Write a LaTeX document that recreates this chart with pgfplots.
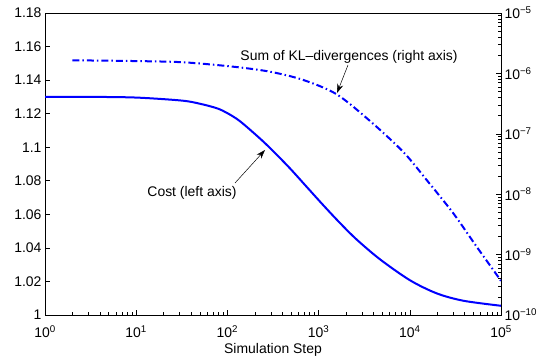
\documentclass[border=0pt]{standalone}
\usepackage{fontspec}
\setmainfont{Liberation Sans}
\usepackage{pgfplots}
\usepackage{pgfplotstable}
\pgfplotsset{compat=1.18}
\usetikzlibrary{arrows.meta}

\pgfplotstableread{
x y
1 1.1300
3.162 1.1300
10 1.1296
31.62 1.1278
50.1 1.1259
76.9 1.1232
100 1.1203
137.4 1.1155
227.5 1.1052
318.4 1.0976
485.3 1.0874
739.6 1.0764
1127 1.0654
1718 1.0548
2612 1.0450
4710 1.0332
10046 1.0207
19724 1.0129
38637 1.0085
100000 1.0055
}\costdata

\pgfplotstableread{
x y
2 1.648e-6
9.29 1.603e-6
32.8 1.528e-6
116 1.291e-6
293 1.067e-6
681 7.78e-7
1578 4.51e-7
3664 1.629e-7
8492 5.0e-8
15311 1.718e-8
29992 4.83e-9
54075 1.352e-9
93325 4.26e-10
100000 3.63e-10
}\kldata

\begin{document}
\begin{tikzpicture}
\begin{axis}[
  width=456bp, height=302bp, scale only axis,
  at={(0bp,0bp)}, anchor=south west,
  xmode=log, xmin=1, xmax=100000,
  tick label style={font=\fontsize{14}{16}\selectfont},
  xticklabel style={yshift=-7bp},
  major tick length=5bp, minor tick length=3bp,
  tick style={black, line width=0.6bp},
  axis line style={line width=0.8bp},
  ymin=1, ymax=1.18,
  xtick pos=left, ytick pos=left,
  xtick={1,10,100,1000,10000,100000},
  xticklabels={10\textsuperscript{0},10\textsuperscript{1},10\textsuperscript{2},10\textsuperscript{3},10\textsuperscript{4},10\textsuperscript{5}},
  minor xtick={2,3,4,5,6,7,8,9,20,30,40,50,60,70,80,90,200,300,400,500,600,700,800,900,2000,3000,4000,5000,6000,7000,8000,9000,20000,30000,40000,50000,60000,70000,80000,90000},
  ytick={1,1.02,1.04,1.06,1.08,1.1,1.12,1.14,1.16,1.18},
  yticklabels={1,1.02,1.04,1.06,1.08,1.1,1.12,1.14,1.16,1.18},
  xlabel={Simulation Step},
  xlabel style={font=\fontsize{14}{16}\selectfont, yshift=1.5bp},
]
\addplot[blue, line width=2bp, no markers, smooth, tension=0.5] table[x=x,y=y] {\costdata};
\end{axis}
\begin{axis}[
  width=456bp, height=302bp, scale only axis,
  at={(0bp,0bp)}, anchor=south west,
  xmode=log, xmin=1, xmax=100000,
  tick label style={font=\fontsize{14}{16}\selectfont},
  major tick length=5bp, minor tick length=3bp,
  tick style={black, line width=0.6bp},
  axis line style={line width=0.8bp},
  axis x line=none, axis y line*=right,
  ymode=log, ymin=1e-10, ymax=1e-5,
  ytick={1e-10,1e-9,1e-8,1e-7,1e-6,1e-5},
  yticklabels={10\textsuperscript{−10},10\textsuperscript{−9},10\textsuperscript{−8},10\textsuperscript{−7},10\textsuperscript{−6},10\textsuperscript{−5}},
  minor ytick={2e-10,3e-10,4e-10,5e-10,6e-10,7e-10,8e-10,9e-10,2e-9,3e-9,4e-9,5e-9,6e-9,7e-9,8e-9,9e-9,2e-8,3e-8,4e-8,5e-8,6e-8,7e-8,8e-8,9e-8,2e-7,3e-7,4e-7,5e-7,6e-7,7e-7,8e-7,9e-7,2e-6,3e-6,4e-6,5e-6,6e-6,7e-6,8e-6,9e-6},
]
\addplot[blue, line width=2bp, no markers, smooth, tension=0.5, dash pattern=on 7bp off 3bp on 1.5bp off 3bp] table[x=x,y=y] {\kldata};
\end{axis}
\node[font=\fontsize{14}{16}\selectfont] at (304bp,258bp) {Sum of KL\textendash divergences (right axis)};
\draw[-{Stealth[length=9bp,width=6bp]}, line width=0.5bp] (303bp,250bp) -- (292bp,222bp);
\node[font=\fontsize{14}{16}\selectfont] at (147bp,122bp) {Cost (left axis)};
\draw[-{Stealth[length=9bp,width=6bp]}, line width=0.5bp] (190bp,132bp) -- (220bp,165bp);
\pgfresetboundingbox
\path[use as bounding box] (-45bp,-41bp) rectangle (494bp,315bp);
\end{tikzpicture}
\end{document}
